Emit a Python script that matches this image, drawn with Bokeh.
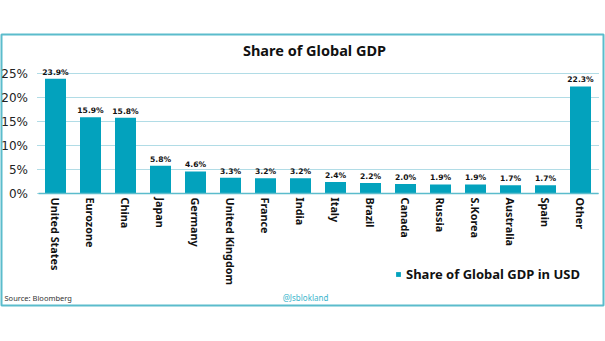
from bokeh.plotting import figure
from bokeh.models import (ColumnDataSource, Range1d, FixedTicker, Label, Legend, LegendItem)
from bokeh.core.properties import value
from bokeh.embed import file_html
from bokeh.resources import INLINE

categories = ["United States", "Eurozone", "China", "Japan", "Germany", "United Kingdom",
              "France", "India", "Italy", "Brazil", "Canada", "Russia", "S.Korea",
              "Australia", "Spain", "Other"]
shares = [23.9, 15.9, 15.8, 5.8, 4.6, 3.3, 3.2, 3.2, 2.4, 2.2, 2.0, 1.9, 1.9, 1.7, 1.7, 22.3]
y_ticks = [0, 5, 10, 15, 20, 25]
y_tick_labels = ["0%", "5%", "10%", "15%", "20%", "25%"]
title_text = "Share of Global GDP"
series_name = "Share of Global GDP in USD"
source_text = "Source:  Bloomberg"
handle_text = "@Jsblokland"

BAR = "#03a2bd"
FRAME = "#5bbccc"
GRID = "#62b9cc"
WIDE = "DejaVu Sans"
NARROW = "Noto Sans"

n = len(categories)
xpos = [i + 0.5 for i in range(n)]
src = ColumnDataSource(dict(x=xpos, val=shares, lab=[f"{v:.1f}%" for v in shares]))

# frame = the bordered box (x 1..603, y 34..305); 35 px per category, 4.8 px per percent
p = figure(width=605, height=341,
           x_range=Range1d(-1.0429, 16.157), y_range=Range1d(-23.333, 33.125),
           output_backend="svg", toolbar_location=None,
           min_border_left=1, min_border_right=2, min_border_top=34, min_border_bottom=36)
p.title.visible = False
p.outline_line_color = FRAME
p.outline_line_width = 2
p.background_fill_color = "white"
p.border_fill_color = "white"
p.xgrid.visible = False
p.ygrid.visible = False

# grid lines from tick values
p.segment(x0=[-0.014] * len(y_ticks), x1=[16.04] * len(y_ticks), y0=y_ticks, y1=y_ticks,
          line_color=GRID, line_width=1, line_dash="1 1")

r = p.vbar(x="x", top="val", width=0.6, source=src, fill_color=BAR, line_color=None)
p.text(x="x", y="val", text="lab", source=src, text_align="center", text_baseline="bottom",
       y_offset=-2, text_font=value(WIDE), text_font_size="7.6px", text_font_style="bold",
       text_color="#111111")

# y axis
yax = p.yaxis[0]
yax.fixed_location = 0
yax.ticker = FixedTicker(ticks=y_ticks)
yax.major_label_overrides = dict(zip(y_ticks, y_tick_labels))
yax.axis_line_color = None
yax.major_tick_line_color = None
yax.minor_tick_line_color = None
yax.major_tick_out = 0
yax.major_tick_in = 0
yax.minor_tick_out = 0
yax.major_label_standoff = 10
yax.major_label_text_font = WIDE
yax.major_label_text_font_size = "12px"
yax.major_label_text_color = "#222222"

# x axis
xax = p.xaxis[0]
xax.fixed_location = 0
xax.bounds = (0, n)
xax.ticker = FixedTicker(ticks=xpos)
xax.major_label_overrides = dict(zip(xpos, categories))
xax.axis_line_color = FRAME
xax.axis_line_width = 1.5
xax.major_tick_line_color = None
xax.minor_tick_line_color = None
xax.major_tick_out = 0
xax.major_tick_in = 0
xax.minor_tick_out = 0
xax.major_label_orientation = "vertical"
xax.major_label_standoff = 4
xax.major_label_text_font = NARROW
xax.major_label_text_font_size = "10.8px"
xax.major_label_text_font_style = "bold"
xax.major_label_text_color = "#111111"

# title inside the box
p.add_layout(Label(x=7.9, y=29.8, text=title_text, text_align="center", text_baseline="middle",
                   text_font=NARROW, text_font_size="14.5px", text_font_style="bold",
                   text_color="#111111"))

# legend
legend = Legend(items=[LegendItem(label=series_name, renderers=[r])],
                location=(394, 22), orientation="horizontal", padding=0, margin=0,
                border_line_color=None, background_fill_alpha=0,
                glyph_width=6, glyph_height=6, label_standoff=5,
                label_text_font=NARROW, label_text_font_size="13px",
                label_text_font_style="bold", label_text_color="#111111")
p.add_layout(legend, "center")

p.add_layout(Label(x=-0.957, y=-21.67, text=source_text, text_font=NARROW,
                   text_font_size="7.5px", text_color="#333333", text_baseline="middle"))
p.add_layout(Label(x=7.643, y=-21.67, text=handle_text, text_font=NARROW,
                   text_font_size="8px", text_color="#3bb5cc", text_baseline="middle",
                   text_align="center"))

open("out.html", "w").write(file_html(p, INLINE))
